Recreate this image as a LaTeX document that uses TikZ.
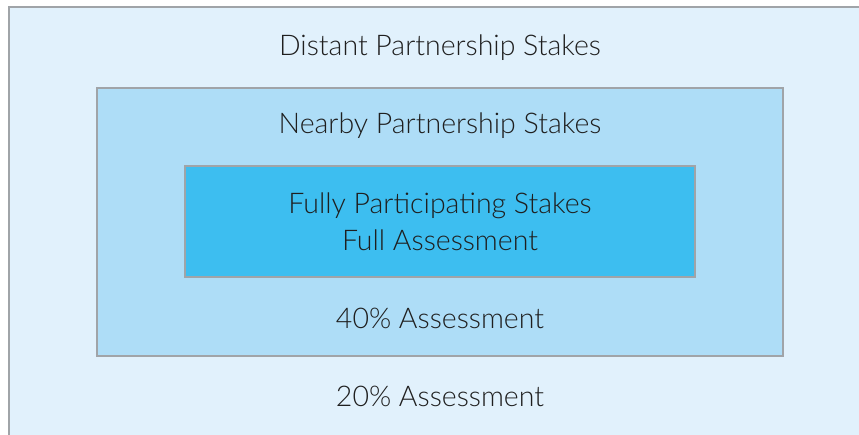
\documentclass[tikz,border=0pt]{standalone}
\usepackage{fontspec}
\setmainfont{Lato}[UprightFont=* Light]
\usepackage{xcolor}
\usetikzlibrary{calc}
\definecolor{outerblue}{HTML}{E1F1FC}
\definecolor{midblue}{HTML}{AEDDF7}
\definecolor{innerblue}{HTML}{3DBEF0}
\definecolor{rimgray}{HTML}{A0A4A8}
\tikzset{
  ring/.style={draw=rimgray, line width=2pt},
  lbl/.style={font=\fontsize{28.5}{37}\selectfont, text=black!88, inner sep=0pt, align=center}
}

\begin{document}
\begin{tikzpicture}[x=1pt, y=-1pt]
\useasboundingbox (0,0) rectangle (859,434);
\clip (0,0) rectangle (859,434);
\fill[white] (0,0) rectangle (859,434);
% three nested areas
\draw[ring, fill=outerblue] (8.5,6.5) rectangle (880,460);
\draw[ring, fill=midblue] (96.5,87.5) rectangle (782.5,355.5);
\draw[ring, fill=innerblue] (184.5,165.5) rectangle (694.5,276.5);
% labels
\node[lbl] (distant) at (440,48) {Distant Partnership Stakes};
\node[lbl] (nearby) at (440,126) {Nearby Partnership Stakes};
\node[lbl] (fully) at (440,222) {Fully Participating Stakes\\Full Assessment};
\node[lbl] (forty) at (440,318) {40\% Assessment};
\node[lbl] (twenty) at (440,396) {20\% Assessment};
\end{tikzpicture}
\end{document}
